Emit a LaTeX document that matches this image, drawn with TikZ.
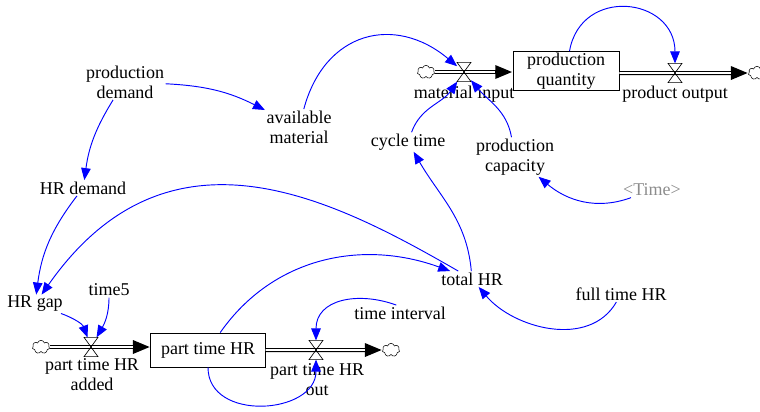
\documentclass[tikz,border=0pt]{standalone}
\usepackage{fontspec}
\setmainfont{Liberation Serif}
\usepackage{tikz}
\usetikzlibrary{arrows.meta,shapes.symbols}

\begin{document}
\begin{tikzpicture}[x=0.75pt, y=0.75pt,
    font=\fontsize{13.5}{15}\selectfont,
    var/.style={align=center, inner sep=1pt},
    stock/.style={draw, line width=0.6pt, minimum width=86pt, minimum height=25.5pt,
                  align=center, inner sep=1pt},
    valve/.style={inner sep=0pt, minimum width=10pt, minimum height=14pt},
    sink/.style={cloud, cloud puffs=7, draw, line width=0.4pt, minimum width=13pt,
                 minimum height=10pt, inner sep=0pt},
    link/.style={blue, line width=0.7pt, -{Triangle[length=9pt, width=7.2pt]}},
    pipe/.style={line width=3pt, -{Triangle[length=13pt, width=9.5pt]},
                 postaction={draw=white, line width=1.4pt, -, shorten >=13pt}}]
        \useasboundingbox (0, 0) rectangle (760, -411);

        % auxiliaries
        \node[var](pd)   at (125, -82)  {production\\demand};
        \node[var](am)   at (299, -127) {available\\material};
        \node[var](hrd)  at ( 83, -188) {HR demand};
        \node[var](hrg)  at ( 35, -304) {HR gap};
        \node[var](t5)   at (109, -290) {time5};
        \node[var](ti)   at (400, -313) {time interval};
        \node[var](thr)  at (472, -279) {total HR};
        \node[var](fthr) at (621, -294) {full time HR};
        \node[var](ct)   at (408, -142) {cycle time};
        \node[var](pc)   at (515, -157) {production\\capacity};
        \node[var, text=black!45](tm) at (652, -190) {<Time>};

        % part time HR chain
        \node[sink](cl1)  at ( 41, -347) {};
        \node[valve](v1)  at ( 91, -347) {};
        \node[var](lv1)   at ( 92, -375) {part time HR\\added};
        \node[stock](pth) at (208, -350) {part time HR};
        \node[valve](v2)  at (316, -350) {};
        \node[var](lv2)   at (317, -380) {part time HR\\out};
        \node[sink](cl2)  at (391, -350) {};

        % production chain
        \node[sink](cl3)  at (426, -72) {};
        \node[valve](v3)  at (464, -72) {};
        \node[var](lv3)   at (464, -94) {material input};
        \node[stock, minimum width=79.5pt, minimum height=28.5pt](pq) at (566, -71)
              {production\\quantity};
        \node[valve](v4)  at (675, -73) {};
        \node[var](lv4)   at (675, -94) {product output};
        \node[sink](cl4)  at (757, -73) {};

        \draw[pipe] (cl1.east) -- (pth.west |- cl1.east);
        \draw[pipe] (pth.east |- v2) -- (cl2.west);
        \draw[pipe] (cl3.east) -- (pq.west |- cl3.east);
        \draw[pipe] (pq.east |- v4) -- (cl4.west);

        \foreach \v in {v1, v2, v3, v4}
            \draw[line width=0.5pt] (\v.north west) -- (\v.north east)
                  -- (\v.south west) -- (\v.south east) -- cycle;

        % links
        \draw[link] (pd) to[bend left=12] (am);
        \draw[link] (pd) to[bend right=12] (hrd);
        \draw[link] (hrd) to[bend right=15] (hrg);
        \draw[link] (thr) to[out=150, in=55, out looseness=0.9, in looseness=1.35] (hrg);
        \draw[link] (pth) to[out=55, in=160] (thr);
        \draw[link] (am) to[out=75, in=140, looseness=1.3] (v3);
        \draw[link] (ct) to[out=70, in=235] (v3);
        \draw[link] (pc) to[out=100, in=-50] (v3);
        \draw[link] (thr) to[out=95, in=-60] (ct);
        \draw[link] (tm) to[out=200, in=-40] (pc);
        \draw[link] (fthr) to[out=240, in=-50] (thr);
        \draw[link] (pq) to[out=80, in=90, looseness=1.6] (v4);
        \draw[link] (hrg) to[out=-20, in=110] (v1);
        \draw[link] (t5) to[out=-90, in=60] (v1);
        \draw[link] (ti.115) to[out=160, in=90, looseness=1.2] (v2);
        \draw[link] (pth.south) to[out=-90, in=-90, looseness=1.3] (v2);
\end{tikzpicture}
\end{document}
